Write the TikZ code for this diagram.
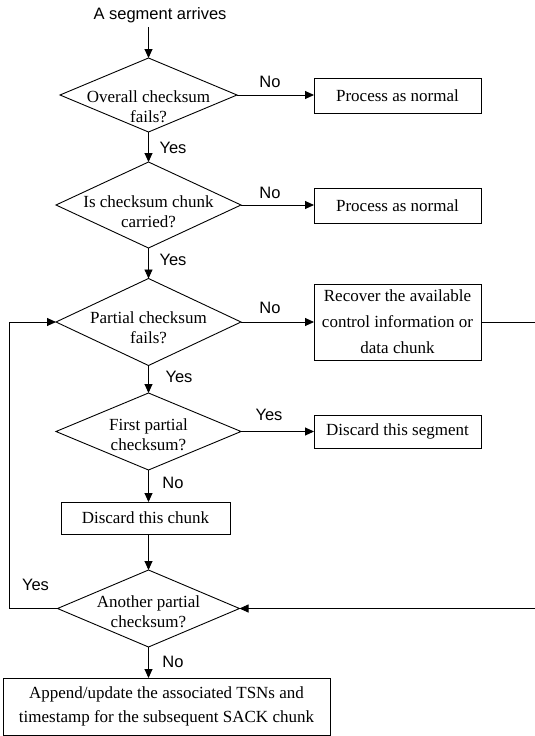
\documentclass[tikz,border=0pt]{standalone}
\usepackage{fontspec}
\setmainfont{Liberation Serif}
\newfontfamily\labelfont{Liberation Sans}
\usetikzlibrary{arrows.meta,shapes.geometric}
\begin{document}
\begin{tikzpicture}[x=1pt,y=-1pt,
  line width=0.9pt,
  arr/.style={-{Triangle[length=9pt,width=8pt]}},
  box/.style={draw, rectangle, inner sep=0pt, outer sep=0pt, align=center, font=\fontsize{17}{25}\selectfont},
  dia/.style={draw, diamond, inner sep=0pt, outer sep=0pt},
  dtext/.style={align=center, font=\fontsize{17}{20.5}\selectfont, inner sep=0pt},
  lab/.style={font=\labelfont\fontsize{16.5}{18}\selectfont, inner sep=0pt}
]
\useasboundingbox (0,0) rectangle (535,736);

% start
\node[lab] (start) at (160,15) {A segment arrives};

% diamonds
\node[dia, minimum width=177pt, minimum height=74pt] (d1) at (148.5,95) {};
\node[dtext] (t1) at (148.5,106.5) {Overall checksum\\fails?};
\node[dia, minimum width=185pt, minimum height=86pt] (d2) at (148.5,205) {};
\node[dtext] (t2) at (148.5,211.5) {Is checksum chunk\\carried?};
\node[dia, minimum width=185pt, minimum height=87pt] (d3) at (148.5,322) {};
\node[dtext] (t3) at (148.5,327.5) {Partial checksum\\fails?};
\node[dia, minimum width=185pt, minimum height=77pt] (d4) at (148.5,431.5) {};
\node[dtext] (t4) at (148.5,434.5) {First partial\\checksum?};
\node[dia, minimum width=182pt, minimum height=77pt] (d5) at (148.5,608.5) {};
\node[dtext] (t5) at (148.5,611.5) {Another partial\\checksum?};

% boxes
\node[box, minimum width=167pt, minimum height=35pt] (b1) at (397.5,95.5) {Process as normal};
\node[box, minimum width=167pt, minimum height=35pt] (b2) at (397.5,205.5) {Process as normal};
\node[box, minimum width=167pt, minimum height=76pt, font=\fontsize{17}{26}\selectfont] (b3) at (397.5,322) {Recover the available\\control information or\\data chunk};
\node[box, minimum width=167pt, minimum height=33pt] (b4) at (397.5,431.5) {Discard this segment};
\node[box, minimum width=169pt, minimum height=32pt] (b5) at (145.5,518) {Discard this chunk};
\node[box, minimum width=327pt, minimum height=57pt, font=\fontsize{17}{24}\selectfont] (b6) at (166.5,706.5) {Append/update the associated TSNs and\\timestamp for the subsequent SACK chunk};

% connectors
\draw[arr] (d1.north |- start.south) ++(0,4) -- (d1.north);
\draw[arr] (d1.east) -- (d1.east -| b1.west);
\draw[arr] (d1.south) -- (d2.north);
\draw[arr] (d2.east) -- (d2.east -| b2.west);
\draw[arr] (d2.south) -- (d3.north);
\draw[arr] (d3.east) -- (b3.west);
\draw[arr] (d3.south) -- (d4.north);
\draw[arr] (d4.east) -- (b4.west);
\draw[arr] (d4.south) -- (b5.north -| d4.south);
\draw[arr] (b5.south -| d5.north) -- (d5.north);
\draw[arr] (d5.south) -- (b6.north -| d5.south);
\draw[arr] (d5.west) -- ++(-48,0) |- (d3.west);
\coordinate (re1) at (535,322);
\coordinate (re2) at (535,608.5);
\draw (b3.east) -- (re1);
\draw[arr] (re2) -- (d5.east);

% labels
\node[lab] (l1) at (270,82) {No};
\node[lab] (l2) at (173,148) {Yes};
\node[lab] (l3) at (270,193) {No};
\node[lab] (l4) at (173,260) {Yes};
\node[lab] (l5) at (270,308) {No};
\node[lab] (l6) at (179,377) {Yes};
\node[lab] (l7) at (269,415) {Yes};
\node[lab] (l8) at (173,483) {No};
\node[lab] (l9) at (35.5,585) {Yes};
\node[lab] (l10) at (173,662) {No};
\end{tikzpicture}
\end{document}
